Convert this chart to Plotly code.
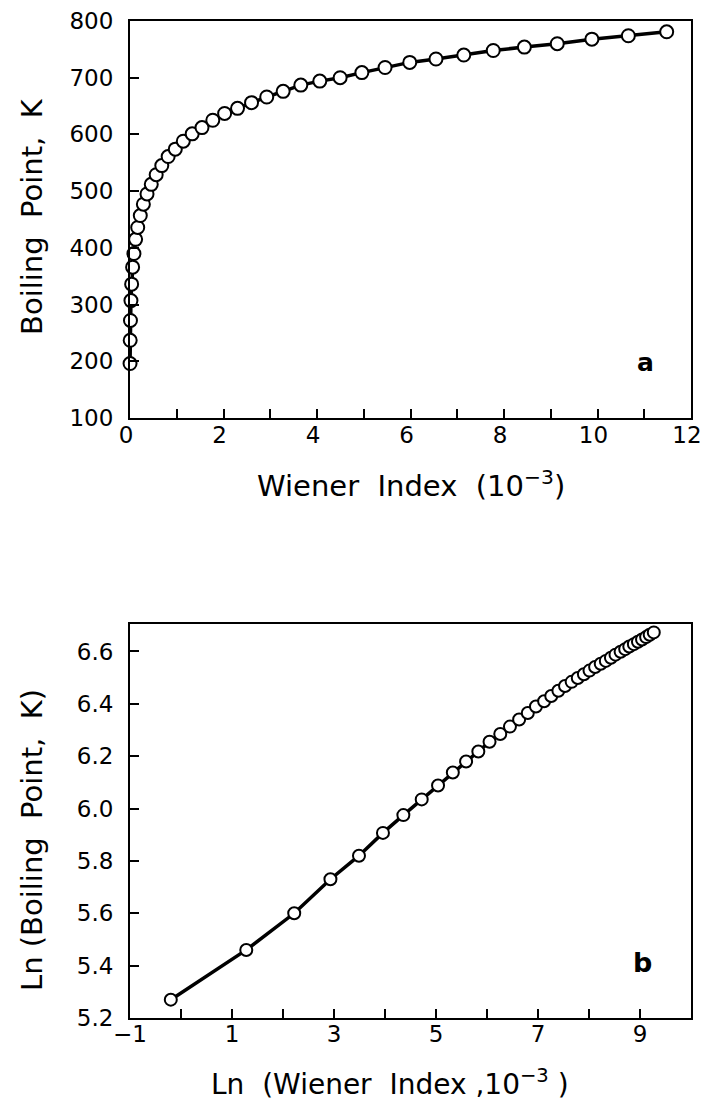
import plotly.graph_objects as go
from plotly.subplots import make_subplots

# Panel a: Wiener index (x 10^-3) vs boiling point (K), n-alkanes C2..C41
wiener_k = [0.001, 0.004, 0.010, 0.020, 0.035, 0.056, 0.084, 0.120, 0.165, 0.220,
            0.286, 0.364, 0.455, 0.560, 0.680, 0.816, 0.969, 1.140, 1.330, 1.540,
            1.771, 2.024, 2.300, 2.600, 2.925, 3.276, 3.654, 4.060, 4.495, 4.960,
            5.456, 5.984, 6.545, 7.140, 7.770, 8.436, 9.139, 9.880, 10.660, 11.480]
boiling_k = [196, 237, 272, 307, 336, 366, 390, 415, 436, 457,
             477, 495, 512, 529, 545, 561, 574, 588, 601, 612,
             625, 637, 646, 656, 666, 676, 687, 694, 700, 709,
             718, 727, 733, 740, 748, 754, 760, 768, 774, 781]

# Panel b: Ln(Wiener index) vs Ln(boiling point)
ln_wiener = [-0.20, 1.28, 2.22, 2.93, 3.49, 3.96, 4.36, 4.72, 5.04, 5.33,
             5.59, 5.83, 6.05, 6.26, 6.45, 6.63, 6.80, 6.96, 7.12, 7.26,
             7.40, 7.53, 7.66, 7.78, 7.90, 8.01, 8.12, 8.23, 8.33, 8.43,
             8.52, 8.62, 8.71, 8.79, 8.88, 8.96, 9.04, 9.12, 9.19, 9.27]
ln_boiling = [5.270, 5.460, 5.600, 5.730, 5.820, 5.907, 5.975, 6.035, 6.088, 6.138,
              6.180, 6.218, 6.255, 6.285, 6.313, 6.340, 6.365, 6.390, 6.410, 6.430,
              6.450, 6.468, 6.484, 6.499, 6.513, 6.527, 6.541, 6.553, 6.564, 6.576,
              6.588, 6.599, 6.609, 6.619, 6.628, 6.637, 6.646, 6.655, 6.664, 6.673]

# Tick labels
xa_vals = list(range(0, 13))
xa_text = [str(v) if v % 2 == 0 else "" for v in xa_vals]
ya_vals = [100, 200, 300, 400, 500, 600, 700, 800]
ya_text = ["100", "200", "300", "400", "500", "600", "700", "800"]
xb_vals = list(range(-1, 11))
xb_text = ["\u22121", "", "1", "", "3", "", "5", "", "7", "", "9", ""]
yb_vals = [5.2, 5.4, 5.6, 5.8, 6.0, 6.2, 6.4, 6.6]
yb_text = ["5.2", "5.4", "5.6", "5.8", "6.0", "6.2", "6.4", "6.6"]

FONT = "DejaVu Sans"
W, H = 702, 1111
L, R, T, B = 130, 11, 21, 93
pw, ph = W - L - R, H - T - B


def px(x):
    return (x - L) / pw


def py(y):
    return (H - B - y) / ph


fig = make_subplots(rows=2, cols=1)

fig.add_trace(go.Scatter(x=wiener_k, y=boiling_k, mode="lines+markers",
                         line=dict(color="black", width=3.5),
                         marker=dict(symbol="circle", size=13, color="white",
                                     line=dict(color="black", width=2)),
                         showlegend=False, cliponaxis=False), row=1, col=1)
fig.add_trace(go.Scatter(x=ln_wiener, y=ln_boiling, mode="lines+markers",
                         line=dict(color="black", width=3.5),
                         marker=dict(symbol="circle", size=12, color="white",
                                     line=dict(color="black", width=2)),
                         showlegend=False, cliponaxis=False), row=2, col=1)

axis_common = dict(showline=True, linecolor="black", linewidth=2, mirror=True,
                   ticks="inside", ticklen=9, tickwidth=1.5, tickcolor="black",
                   showgrid=False, zeroline=False, ticklabeloverflow="allow",
                   tickfont=dict(family=FONT, size=23, color="black"))

fig.update_xaxes(range=[0, 12], tickmode="array", tickvals=xa_vals, ticktext=xa_text,
                 domain=[0, 1], ticklabelshift=-4, ticklabelstandoff=-5,
                 **axis_common, row=1, col=1)
fig.update_yaxes(range=[100, 800], tickmode="array", tickvals=ya_vals, ticktext=ya_text,
                 domain=[py(418), 1], ticklabelstandoff=10, **axis_common, row=1, col=1)
fig.update_xaxes(range=[-1, 10], tickmode="array", tickvals=xb_vals, ticktext=xb_text,
                 domain=[0, 1], ticklabelstandoff=-6, **axis_common, row=2, col=1)
fig.update_yaxes(range=[5.2, 6.705], tickmode="array", tickvals=yb_vals, ticktext=yb_text,
                 domain=[0, py(624)], ticklabelstandoff=10, **axis_common, row=2, col=1)

title_font = dict(family=FONT, size=29, color="black")
ann = [
    dict(text="Wiener  Index  (10<sup>\u22123</sup>)", x=px(411), y=py(484),
         xref="paper", yref="paper", showarrow=False, font=title_font,
         xanchor="center", yanchor="middle"),
    dict(text="Boiling  Point,  K", x=px(32), y=py(217),
         xref="paper", yref="paper", showarrow=False, font=title_font,
         textangle=-90, xanchor="center", yanchor="middle"),
    dict(text="Ln  (Wiener  Index ,10<sup>\u22123</sup> )", x=px(390), y=py(1082),
         xref="paper", yref="paper", showarrow=False, font=dict(family=FONT, size=28, color="black"),
         xanchor="center", yanchor="middle"),
    dict(text="Ln (Boiling  Point,  K)", x=px(32), y=py(840),
         xref="paper", yref="paper", showarrow=False, font=title_font,
         textangle=-90, xanchor="center", yanchor="middle"),
    dict(text="<b>a</b>", x=px(645), y=py(362), xref="paper", yref="paper",
         showarrow=False, font=dict(family=FONT, size=25, color="black"),
         xanchor="center", yanchor="middle"),
    dict(text="<b>b</b>", x=px(642), y=py(962), xref="paper", yref="paper",
         showarrow=False, font=dict(family=FONT, size=27, color="black"),
         xanchor="center", yanchor="middle"),
]

fig.update_layout(width=W, height=H, margin=dict(l=L, r=R, t=T, b=B, autoexpand=False),
                  plot_bgcolor="white", paper_bgcolor="white", annotations=ann,
                  font=dict(family=FONT, color="black"), hovermode=False)

fig.write_html("out.html", config={"displayModeBar": False},
               post_script="document.body.style.margin='0';document.body.style.overflow='hidden';")
